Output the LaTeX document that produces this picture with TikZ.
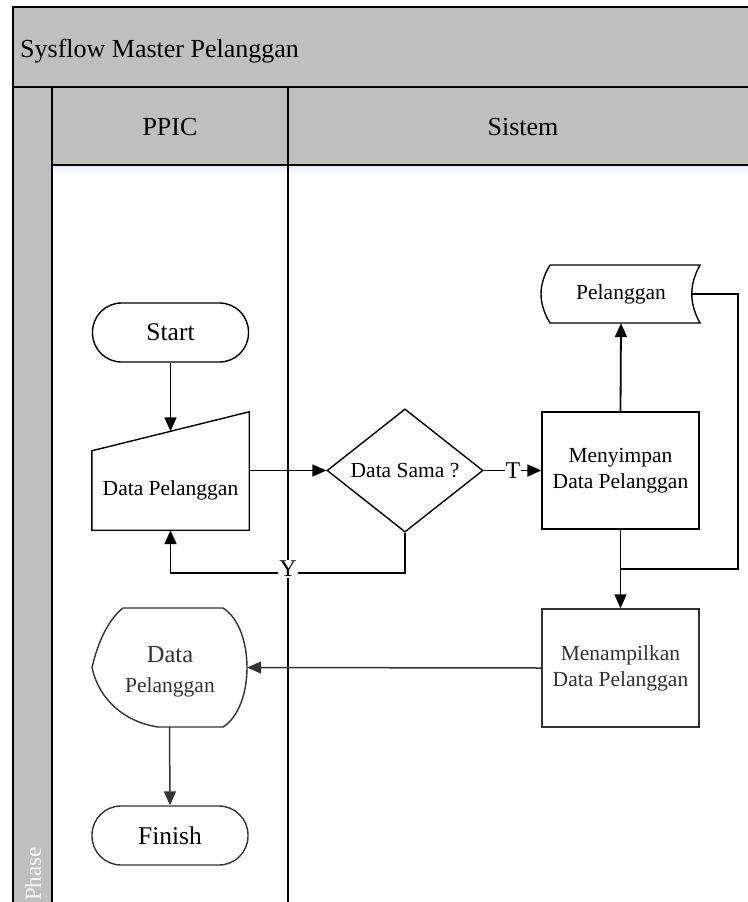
\documentclass[tikz,border=0pt]{standalone}
\usepackage{fontspec}
\setmainfont{Liberation Serif}
\usetikzlibrary{arrows.meta,shapes.geometric,calc}

\definecolor{lanegray}{HTML}{BFBFBF}
\definecolor{inkdark}{HTML}{333333}

\begin{document}
\begin{tikzpicture}[x=1pt,y=-1pt,
  frame/.style={line width=2pt,draw=black},
  shapeline/.style={line width=1.4pt,draw=black},
  boxtext/.style={font=\fontsize{21.5pt}{25.8pt}\selectfont,align=center,text=black},
  bigtext/.style={font=\fontsize{25.5pt}{30pt}\selectfont},
  headtext/.style={font=\fontsize{26pt}{30pt}\selectfont,anchor=base},
  terminal/.style={shapeline,rounded corners=29pt,minimum width=156pt,minimum height=59pt,inner sep=0pt,bigtext},
  procbox/.style={shapeline,rectangle,minimum width=157pt,minimum height=117pt,inner sep=0pt,boxtext},
  decision/.style={shapeline,diamond,minimum width=156pt,minimum height=117pt,inner sep=0pt,boxtext},
  arr/.style={line width=1.8pt,draw=black,-{Triangle[length=14pt,width=12pt]}},
  arrsoft/.style={line width=1.5pt,draw=inkdark,-{Triangle[length=14pt,width=12pt]}},
  conn/.style={line width=1.8pt,draw=black},
  lbl/.style={fill=white,inner sep=1pt,font=\fontsize{24pt}{28pt}\selectfont}]

\useasboundingbox (0,0) rectangle (747,902);
\fill[white] (0,0) rectangle (747,902);

% swimlane frame
\fill[lanegray] (13,7) rectangle (760,165);
\fill[lanegray] (13,165) rectangle (52,910);
\shade[top color=black!12!blue!8!white,bottom color=white] (53,166) rectangle (760,174);
\draw[frame] (13,910) -- (13,7) -- (760,7);
\draw[frame] (13,87) -- (760,87);
\draw[frame] (52,165) -- (760,165);
\draw[frame] (52,87) -- (52,910);
\draw[frame] (288,87) -- (288,910);

\node[anchor=base west,font=\fontsize{26pt}{30pt}\selectfont,inner sep=0pt] (title) at (20,57) {Sysflow Master Pelanggan};
\node[headtext] (ppic) at (170,135) {PPIC};
\node[headtext] (sistem) at (523,135) {Sistem};
\node[rotate=90,text=white!88!lanegray,font=\fontsize{23pt}{26pt}\selectfont] (phase) at (33,874) {Phase};

% PPIC lane
\node[terminal,draw] (start) at (170.5,332.5) {Start};

\node[boxtext,minimum width=157pt,minimum height=79pt,inner sep=0pt] (inp) at (170.5,490.5) {Data Pelanggan};
\draw[shapeline] (inp.south west) -- (inp.south east) -- ($(inp.north east)+(0,-39)$)
  -- (inp.north west) -- cycle;

\node[minimum width=155pt,minimum height=119pt,inner sep=0pt] (disp) at (169.5,667.5) {};
\draw[shapeline,draw=inkdark] (123,608) -- (223,608)
  .. controls (255,628) and (255,707) .. (223,727)
  -- (158,727)
  .. controls (125,722) and (99,700) .. (92,667.5)
  .. controls (98,642) and (108,620) .. (123,608);
\node[font=\fontsize{24.5pt}{28pt}\selectfont,text=inkdark,anchor=base] (dispa) at (170,662) {Data};
\node[boxtext,text=inkdark,anchor=base] (dispb) at (170,692) {Pelanggan};

\node[terminal,draw=inkdark] (fin) at (170,835.5) {Finish};

% Sistem lane
\node[decision] (dia) at (405,470.5) {Data Sama ?};
\node[procbox] (sim) at (620.5,470.5) {Menyimpan\\Data Pelanggan};
\node[procbox,draw=inkdark,text=inkdark,minimum height=118pt] (tampil) at (620.5,668) {Menampilkan\\Data Pelanggan};

\node[boxtext,minimum width=158pt,minimum height=58pt,inner sep=0pt] (store) at (621,294) {Pelanggan};
\draw[shapeline] (550,265) -- (700,265)
  .. controls (689,285) and (689,303) .. (700,323)
  -- (550,323)
  .. controls (538,303) and (538,285) .. (550,265);

% connectors
\draw[arr] (start.south) -- ($(inp.north)+(0,-19.5)$);
\draw[arr] (inp.east |- dia.west) -- (dia.west);
\draw[arr] (dia.east) -- (sim.west);
\draw[arr] (dia.south) -- ++(0,40) -| (inp.south);
\draw[arr] (sim.north) -- (store.south);
\coordinate (jn) at (620.5,569);
\draw[conn] ($(store.east)+(-8,0)$) -- (738,294) -- (738,569) -- (jn);
\draw[arr] (sim.south) -- (tampil.north);
\draw[arrsoft] (tampil.west) -- (disp.east);
\draw[arrsoft] (disp.south) -- (fin.north);

\node[lbl] (ylab) at (288,569) {Y};
\node[lbl] (tlab) at (513,470.5) {T};

\end{tikzpicture}
\end{document}
